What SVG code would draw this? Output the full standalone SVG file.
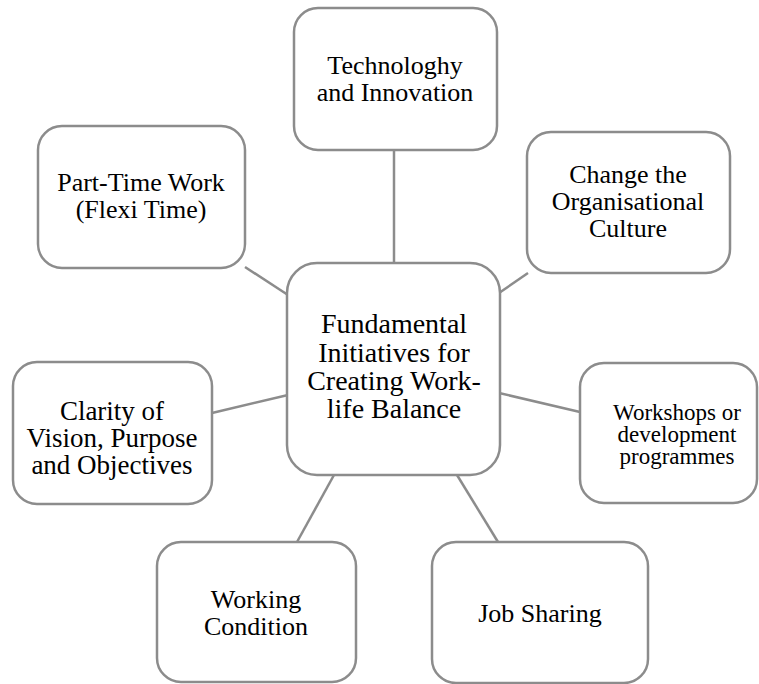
<svg xmlns="http://www.w3.org/2000/svg" width="759" height="684" viewBox="0 0 759 684">
<style>
.box{fill:#fff;stroke:#8c8c8c;stroke-width:2.5}
.c line{stroke:#8c8c8c;stroke-width:2.5}
.n{font-family:'Liberation Serif','Times New Roman',serif;font-size:26px;text-anchor:middle;fill:#000}
</style>
<rect width="759" height="684" fill="#fff"/>
<g class="c" id="connectors">
<line x1="394" y1="150" x2="394" y2="263"/>
<line x1="245" y1="267" x2="288" y2="295"/>
<line x1="528" y1="273" x2="499" y2="293"/>
<line x1="499" y1="393" x2="580" y2="412"/>
<line x1="212" y1="413" x2="288" y2="395"/>
<line x1="297" y1="542" x2="334" y2="475"/>
<line x1="457" y1="475" x2="498" y2="542"/>
</g>
<g id="center" class="n" style="font-size:28px">
<rect class="box" x="287" y="263" width="213" height="212" rx="30"/>
<text x="394" y="333">Fundamental</text>
<text x="394" y="362">Initiatives for</text>
<text x="394" y="390">Creating Work-</text>
<text x="394" y="418">life Balance</text>
</g>
<g id="tech" class="n">
<rect class="box" x="294" y="8" width="203" height="142" rx="24"/>
<text x="395" y="74">Technologhy</text>
<text x="395" y="101">and Innovation</text>
</g>
<g id="parttime" class="n">
<rect class="box" x="38" y="126" width="207" height="142" rx="24"/>
<text x="141" y="191">Part-Time Work</text>
<text x="141" y="218">(Flexi Time)</text>
</g>
<g id="culture" class="n">
<rect class="box" x="527" y="132" width="203" height="141" rx="24"/>
<text x="628" y="183">Change the</text>
<text x="628" y="210">Organisational</text>
<text x="628" y="237">Culture</text>
</g>
<g id="workshops" class="n" style="font-size:23px">
<rect class="box" x="580" y="363" width="177" height="140" rx="24"/>
<text x="677" y="420">Workshops or</text>
<text x="677" y="442">development</text>
<text x="677" y="464">programmes</text>
</g>
<g id="clarity" class="n" style="font-size:27px">
<rect class="box" x="13" y="362" width="199" height="142" rx="24"/>
<text x="112" y="420">Clarity of</text>
<text x="112" y="447">Vision, Purpose</text>
<text x="112" y="474">and Objectives</text>
</g>
<g id="working" class="n">
<rect class="box" x="157" y="542" width="199" height="140" rx="24"/>
<text x="256" y="608">Working</text>
<text x="256" y="635">Condition</text>
</g>
<g id="jobsharing" class="n">
<rect class="box" x="432" y="542" width="216" height="141" rx="24"/>
<text x="540" y="622">Job Sharing</text>
</g>
</svg>
